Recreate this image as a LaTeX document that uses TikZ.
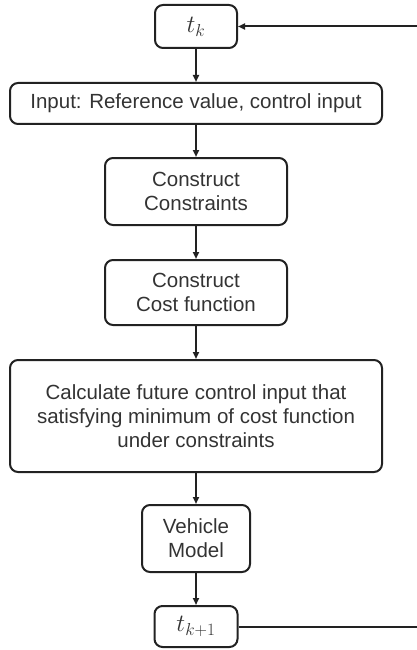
\documentclass[tikz,border=0pt]{standalone}
\usepackage{fontspec}
\setmainfont{Liberation Sans}
\usetikzlibrary{arrows.meta}
\definecolor{txt}{HTML}{333333}
\definecolor{ln}{HTML}{222222}
\begin{document}
\begin{tikzpicture}[x=1pt,y=-1pt,
  box/.style={draw=ln,line width=2pt,rounded corners=8pt,inner sep=0pt,align=center,
    text=txt,font=\fontsize{20.5}{24}\selectfont},
  mathbox/.style={box,font=\fontsize{25}{25}\selectfont},
  conn/.style={draw=ln,line width=2pt,-{Triangle[length=7pt,width=6pt]}},
  plain/.style={draw=ln,line width=2pt}]
\useasboundingbox (0,0) rectangle (417,650);
\node[mathbox,minimum width=82pt,minimum height=43pt] (tk) at (196,26.5) {$t_k$};
\node[box,minimum width=372pt,minimum height=41pt] (in) at (196,103.5) {Input: Reference value, control input};
\node[box,minimum width=182pt,minimum height=67pt] (cons) at (196,191.5) {Construct\\Constraints};
\node[box,minimum width=182pt,minimum height=65pt] (cost) at (196,292.5) {Construct\\Cost function};
\node[box,minimum width=372pt,minimum height=112pt] (calc) at (196,416) {Calculate future control input that\\satisfying minimum of cost function\\under constraints};
\node[box,minimum width=108pt,minimum height=67pt] (veh) at (196,538.5) {Vehicle\\Model};
\node[mathbox,minimum width=83pt,minimum height=41pt] (tk1) at (196,626.5) {$t_{k+1}$};
\coordinate (r1) at (417,626.5);
\coordinate (r0) at (417,26.5);
\draw[conn] (tk) -- (in);
\draw[conn] (in) -- (cons);
\draw[conn] (cons) -- (cost);
\draw[conn] (cost) -- (calc);
\draw[conn] (calc) -- (veh);
\draw[conn] (veh) -- (tk1);
\draw[plain] (tk1) -- (r1);
\draw[conn] (r0) -- (tk);
\end{tikzpicture}
\end{document}
